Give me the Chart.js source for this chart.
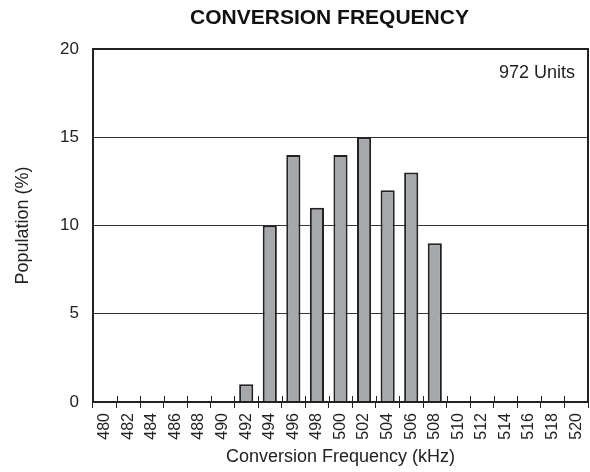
<!DOCTYPE html>
<html>
<head>
<meta charset="utf-8">
<script src="https://cdn.jsdelivr.net/npm/chart.js@4"></script>
<style>
  html, body { margin: 0; padding: 0; background: #fff; }
  #wrap { width: 590px; height: 472px; }
</style>
</head>
<body>
<div id="wrap"><canvas id="chart" width="590" height="472"></canvas></div>
<script>
// histogram data
const freqLabels = ['480', '482', '484', '486', '488', '490', '492', '494', '496', '498', '500',
  '502', '504', '506', '508', '510', '512', '514', '516', '518', '520'];
const population = [0, 0, 0, 0, 0, 0, 1, 10, 14, 11, 14, 15, 12, 13, 9, 0, 0, 0, 0, 0, 0];
const yTicks = [0, 5, 10, 15, 20];
const chartTitle = 'CONVERSION FREQUENCY';
const unitCount = '972 Units';

const font = 'Liberation Sans, Arial, sans-serif';

// title, frame around the plot, ticks that cross the x axis, note in the corner
const framePlugin = {
  id: 'frame',
  afterDraw(chart) {
    const { ctx, chartArea: a } = chart;
    const x = chart.scales.x;
    ctx.save();
    // tick marks at the bin edges, inside part
    const step = x.getPixelForValue(1) - x.getPixelForValue(0);
    ctx.strokeStyle = '#222';
    ctx.lineWidth = 1;
    ctx.beginPath();
    for (let i = 0; i <= freqLabels.length; i++) {
      const px = Math.round(x.getPixelForValue(i) - step / 2) + 0.5;
      ctx.moveTo(px, a.bottom);
      ctx.lineTo(px, a.bottom - 6);
    }
    ctx.stroke();

    ctx.lineWidth = 2;
    ctx.strokeRect(a.left, a.top, a.right - a.left, a.bottom - a.top);

    ctx.fillStyle = '#222';
    ctx.font = '18px ' + font;
    ctx.textAlign = 'right';
    ctx.textBaseline = 'middle';
    ctx.fillText(unitCount, a.right - 13, a.top + 24);

    ctx.fillStyle = '#111';
    ctx.font = 'bold 21px ' + font;
    ctx.textAlign = 'center';
    ctx.fillText(chartTitle, (a.left + a.right) / 2 - 11, 18);
    ctx.restore();
  }
};

document.addEventListener('DOMContentLoaded', () => {
  const ctx = document.getElementById('chart').getContext('2d');
  new Chart(ctx, {
    type: 'bar',
    data: {
      labels: freqLabels,
      datasets: [{
        data: population,
        backgroundColor: '#a7a8ab',
        borderColor: '#222',
        borderWidth: 2,
        barPercentage: 0.6,
        categoryPercentage: 1,
      }],
    },
    options: {
      responsive: false,
      animation: false,
      layout: { padding: { left: 0, right: 2, top: 49, bottom: 0 } },
      plugins: {
        legend: { display: false },
        tooltip: { enabled: false },
        title: { display: false },
      },
      scales: {
        x: {
          offset: true,
          grid: {
            offset: true,
            drawOnChartArea: false,
            color: '#222',
            tickLength: 6,
            lineWidth: 1,
          },
          border: { display: false },
          ticks: {
            color: '#222',
            font: { family: font, size: 16 },
            minRotation: 90,
            maxRotation: 90,
            autoSkip: false,
            padding: 5,
          },
          title: {
            display: true,
            text: 'Conversion Frequency (kHz)',
            color: '#222',
            font: { family: font, size: 18 },
            padding: { top: 4, bottom: 4 },
          },
          afterFit(scale) {
            scale.height = 70;
            scale.paddingLeft = 0;
            scale.paddingRight = 0;
          },
        },
        y: {
          min: 0,
          max: 20,
          afterBuildTicks(scale) { scale.ticks = yTicks.map(v => ({ value: v })); },
          grid: {
            color: '#333',
            lineWidth: 1,
            drawTicks: false,
          },
          border: { display: false },
          ticks: {
            color: '#222',
            font: { family: font, size: 17 },
            padding: 14,
          },
          title: {
            display: true,
            text: 'Population (%)',
            color: '#222',
            font: { family: font, size: 18 },
            padding: { top: 12, bottom: 0 },
          },
          afterFit(scale) { scale.width = 93; },
        },
      },
    },
    plugins: [framePlugin],
  });
});
</script>
</body>
</html>
